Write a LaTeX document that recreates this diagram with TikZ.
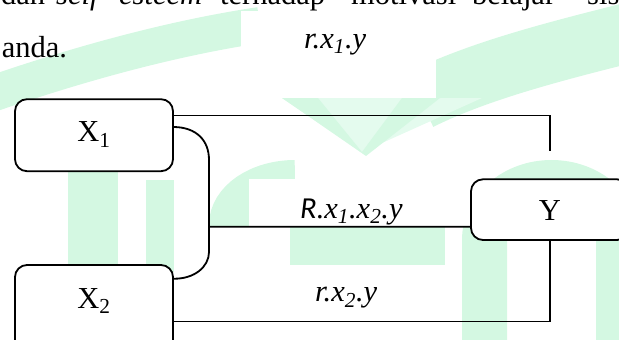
\documentclass[tikz,border=0pt]{standalone}
\usepackage{fontspec}
\setmainfont{Liberation Serif}[ItalicFont={Liberation Serif Italic}]
\newfontfamily\carl{Carlito}[ItalicFont={Carlito Italic}]
\usetikzlibrary{calc}

\definecolor{mint}{RGB}{212,248,226}
\definecolor{mintpale}{RGB}{228,251,238}

\tikzset{
  varbox/.style={draw=black, line width=1.8pt, fill=white, rounded corners=12pt,
    minimum width=158pt, inner xsep=0pt, inner ysep=0pt,
    font=\fontsize{30.5}{36}\selectfont},
  link/.style={draw=black, line width=1.8pt},
  coef/.style={inner sep=0pt, anchor=base west, font=\fontsize{30.5}{36}\selectfont\itshape},
  body/.style={inner sep=0pt, anchor=base west, font=\fontsize{30.5}{36}\selectfont},
  slanted/.style={body, font=\fontsize{30.5}{36}\selectfont\itshape},
  blank/.style={fill=white, draw=none},
  wmfill/.style={fill=mint, draw=none},
  wmline/.style={draw=mint, line width=45pt},
}

\begin{document}
\begin{tikzpicture}[x=1pt, y=-1pt]
\useasboundingbox (0,0) rectangle (619,340);
\begin{scope}
  \clip (0,0) rectangle (619,340);
  % pale logo in the page background
  \draw[wmline, line width=36pt] (-20,98) .. controls (60,70) and (160,40) .. (260,25);
  \draw[wmline, line width=60pt] (420,100) .. controls (480,70) and (560,50) .. (640,30);
  \fill[mintpale] (282,98) -- (482,98) -- (362,152) -- cycle;
  \fill[wmfill] (282,98) -- (318,98) -- (362,152) -- (402,98) -- (440,98) -- (366,156) -- cycle;
  \draw[wmline, line width=50pt] (92.5,345) -- (92.5,160);
  \draw[wmline, line width=28pt] (160,272) -- (160,180);
  \draw[wmline, line width=40pt] (229,240) -- (229,225) arc[start angle=180, end angle=270, x radius=66, y radius=45];
  \draw[wmline] (484.5,345) -- (484.5,240) arc[start angle=180, end angle=360, x radius=67, y radius=57.5] -- (618.5,345);
  \fill[wmfill] (290,227) rectangle (445,265);

  % white text frames
  \fill[blank] (241,11) rectangle (436,98);
  \fill[blank] (249,179) rectangle (480,227);
  \fill[blank] (241,265) rectangle (460,345);
  \fill[blank] (174,227) rectangle (290,265);

  % running text of the page
  \node[body] (w1) at (1,5) {dan};
  \node[slanted] (w2) at (56,5) {self};
  \node[slanted] (w3) at (119,5) {esteem};
  \node[body] (w4) at (220,5) {terhadap};
  \node[body] (w5) at (351,5) {motivasi};
  \node[body] (w6) at (472,5) {belajar};
  \node[body] (w7) at (587,5) {sis};
  \node[body] (w8) at (1.7,57.3) {anda.};

  % coefficient labels
  \node[coef] (r1) at (304,48) {r.x\textsubscript{1}.y};
  \node[coef] (r12) at (300,218.3) {{\carl R}.x\textsubscript{1}.x\textsubscript{2}.y};
  \node[coef] (r2) at (315,301.7) {r.x\textsubscript{2}.y};

  % variables
  \node[varbox, text height=42.5pt, text depth=29.5pt, anchor=base] (X1) at (94,141.7) {X\textsubscript{1}};
  \node[varbox, text height=43.3pt, text depth=46.7pt, anchor=base] (X2) at (94,308.3) {X\textsubscript{2}};
  \node[varbox, text height=41.4pt, text depth=19.3pt, anchor=base] (Y) at (550,220.7) {Y};

  \coordinate (E1) at ([yshift=27pt]Y.north);
  \coordinate (J) at (209,226.7);

  % connectors
  \draw[link] ([yshift=-17.1pt]X1.north east) -| (E1);
  \draw[link] ([yshift=-28.7pt]X1.north east) .. controls (196,127.3) and (209,140) .. (209,160)
        -- (209,252) .. controls (209,267) and (194,279) .. ([yshift=-14.6pt]X2.north east);
  \draw[link] (J) -- ([yshift=-17pt]Y.west);
  \draw[link] ([yshift=-57.3pt]X2.north east) -| (Y.south);
\end{scope}
\end{tikzpicture}
\end{document}
